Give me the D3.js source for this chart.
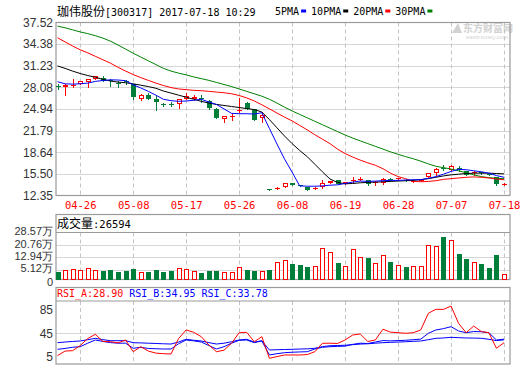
<!DOCTYPE html>
<html><head><meta charset="utf-8">
<script src="https://cdn.jsdelivr.net/npm/d3@7"></script>
<style>
html,body{margin:0;padding:0;background:#fff;}
svg{display:block;}
</style></head><body>
<script>
// ---------------- DATA ----------------
const stockName = "珈伟股份";
const stockCode = "300317";
const timestamp = "2017-07-18 10:29";

const dates = ["04-21","04-24","04-25","04-26","04-27","04-28","05-02","05-03","05-04","05-05",
"05-08","05-09","05-10","05-11","05-12","05-15","05-16","05-17","05-18","05-19",
"05-22","05-23","05-24","05-25","05-26","05-31","06-01","06-02","06-05","06-06",
"06-07","06-08","06-09","06-12","06-13","06-14","06-15","06-16","06-19","06-20",
"06-21","06-22","06-23","06-26","06-27","06-28","06-29","06-30","07-03","07-04",
"07-05","07-06","07-07","07-10","07-11","07-12","07-13","07-14","07-17","07-18"];

const openP = [28.3,28.15,28.25,28.6,28.9,29.3,29.45,29.1,28.75,29.0,
28.5,26.46,26.93,26.4,25.65,25.65,25.63,26.46,26.46,26.55,
26.14,25.0,23.43,23.7,24.6,25.85,24.93,23.63,13.3,13.4,
13.6,14.15,13.85,13.57,13.35,13.6,14.2,14.55,14.05,14.45,
14.7,14.6,14.25,14.2,14.75,14.75,14.6,14.3,14.5,15.02,
15.66,16.4,16.1,16.4,15.85,15.6,15.7,15.55,15.0,14.0];
const highP = [28.5,28.5,29.3,29.05,29.35,29.75,29.7,29.35,28.95,29.1,
28.6,27.05,27.25,26.8,25.85,25.9,26.4,27.2,26.9,26.9,
26.2,25.05,23.9,24.2,26.5,26.0,25.0,24.45,13.35,13.6,
14.15,14.2,13.95,13.6,13.6,14.65,14.5,14.6,14.35,15.05,
15.0,14.65,14.4,14.85,14.95,14.95,14.75,14.6,14.7,15.65,
16.3,16.8,16.85,16.7,15.95,15.85,15.8,15.65,15.1,14.2];
const lowP = [27.9,26.98,28.2,28.55,28.1,29.25,29.0,28.35,28.2,28.6,
26.45,26.3,26.4,24.75,25.4,25.3,25.09,26.4,26.2,25.9,
25.0,23.6,23.0,23.3,24.55,24.95,23.28,23.0,13.12,13.3,
13.55,13.85,13.7,13.1,13.3,13.5,14.1,14.0,14.0,14.2,
14.6,13.95,13.95,14.0,14.4,14.6,14.4,14.25,14.4,14.95,
15.37,16.0,16.0,15.95,15.3,15.35,15.45,15.35,13.9,13.9];
const closeP = [28.2,28.4,28.4,28.95,29.3,29.68,29.05,29.05,28.7,28.95,
26.7,27.0,26.46,25.96,25.6,25.6,26.36,26.83,26.7,26.5,
25.02,23.63,23.86,23.95,24.8,25.0,23.4,24.11,13.2,13.5,
14.1,13.9,13.8,13.15,13.45,14.2,14.45,14.05,14.3,14.55,
14.8,14.05,14.3,14.8,14.7,14.85,14.55,14.5,14.6,15.6,
16.24,16.3,16.57,16.0,15.38,15.7,15.62,15.5,13.96,14.08];

// volume in 手
const volume = [38900,49500,53900,49500,60200,49500,45100,49500,38900,45100,
55800,37000,38900,49500,37000,45100,60200,53900,43300,30700,
43300,43300,37000,37000,66500,49500,45100,43300,49500,97800,
110300,87100,80900,68300,72700,185600,162400,93400,72700,179300,
129200,124800,91500,141700,99700,79000,68300,72700,72700,204400,
198100,256400,235700,149800,118500,97800,87100,62100,143600,26594];

const ma5 = [28.9,28.6,28.55,28.6,28.7,28.95,29.08,29.18,29.15,29.05,
28.45,28.0,27.5,26.95,26.35,26.15,26.05,26.1,26.2,26.35,
25.95,25.6,24.95,24.3,24.25,24.25,24.2,24.4,22.1,19.85,
17.65,15.75,13.75,13.7,13.7,13.75,13.85,13.9,14.1,14.3,
14.45,14.4,14.45,14.5,14.55,14.55,14.6,14.65,14.65,14.85,
15.1,15.45,15.85,16.15,16.1,15.95,15.8,15.6,15.25,15.0];
const ma10 = [31.2,30.85,30.45,30.1,29.8,29.55,29.25,29.0,28.85,28.75,
28.6,28.4,28.2,27.95,27.55,27.25,26.95,26.65,26.35,26.05,
25.8,25.6,25.45,25.3,25.15,25.0,24.85,24.5,23.4,22.2,
21.0,19.9,18.9,18.0,16.9,15.8,14.75,14.25,14.05,14.1,
14.2,14.25,14.3,14.35,14.4,14.45,14.5,14.55,14.65,14.8,
15.0,15.2,15.35,15.45,15.55,15.6,15.6,15.6,15.55,15.5];
const ma20 = [35.3,34.7,34.1,33.55,33.1,32.6,32.1,31.6,31.0,30.45,
29.95,29.5,29.1,28.7,28.35,28.05,27.85,27.75,27.65,27.6,
27.5,27.4,27.3,27.15,26.9,26.55,26.1,25.55,24.95,24.35,
23.75,23.2,22.55,21.9,21.2,20.55,19.9,19.1,18.45,17.95,
17.5,17.1,16.75,16.25,15.6,15.1,14.8,14.4,14.35,14.4,
14.5,14.7,14.8,14.9,15.0,15.05,15.0,14.9,14.75,14.65];
const ma30 = [37.0,36.75,36.45,36.15,35.9,35.6,35.25,34.8,34.25,33.65,
33.05,32.5,31.95,31.4,30.85,30.45,30.15,29.9,29.6,29.35,
29.1,28.8,28.5,28.2,27.85,27.5,27.15,26.8,26.35,25.8,
25.2,24.65,24.15,23.65,23.15,22.65,22.15,21.65,21.15,20.7,
20.3,19.9,19.5,19.1,18.7,18.35,18.0,17.7,17.35,16.95,
16.6,16.4,16.2,15.95,15.65,15.35,15.1,14.95,14.85,14.8];

const rsiA = [6.6,14.5,15.2,24,36,43.3,31,30.6,28.5,33.5,
13.4,22,14.5,11,10,9.5,36,50.7,46.7,39.2,
25,13.4,16,27.8,46,46.7,30.6,39.2,2.1,5,
7.8,7.8,7.8,8.5,13.4,27.8,28,27.5,33.5,42,
43.8,31,33.5,52,47,46,45,46,50.7,79.3,
86.2,86,91.8,62,46,57.5,48,46,19.3,28.90];
const rsiB = [17.5,19,21,22,28,33.5,31,29,28,28,
19.3,21,19,18.5,18,18.1,27,33.5,32,30,
24,18.1,22,28,33,33.5,29,32,7.8,10,
11.7,12.5,13,13.4,18,21,22,22.5,23,26,
28,27.5,30,32.5,32,32.5,33,34,35,45,
50.7,53,56.4,49,46,48,47.7,46,33.5,34.95];
const rsiC = [28.9,30,31,31.8,34,36.4,34,32.3,32.3,32.3,
28.9,28.5,28,27.5,27,26.6,30,34.7,33,31.8,
29,26.6,28,30.5,33.5,34.7,30,32,16.4,16.8,
17.2,17.5,18,18.3,19.3,22,23.7,24,24.5,25.5,
26.5,27,28,28.9,29.5,30,30.5,31.2,31.8,34,
36.4,37,38.1,37.5,37,36.8,36.4,34.7,32.5,33.78];

const priceTicks = [37.52,34.38,31.23,28.08,24.94,21.79,18.64,15.50,12.35];
const tickDates = ["04-26","05-08","05-17","05-26","06-08","06-19","06-28","07-07","07-18"];
const volTickValues = [285700,207600,129400,51200,0];
const volTickLabels = ["28.57万","20.76万","12.94万","5.12万","0"];
const rsiTicks = [85,45,5];
const maLabels = ["5PMA","10PMA","20PMA","30PMA"];
const rsiLabels = ["RSI_A","RSI_B","RSI_C"];
const volLabel = "成交量";

// ---------------- DRAW ----------------
const RED = "#ff0000", GREEN = "#007f3a", BLUE = "#0000ff";
const maColors = [BLUE, "#000000", RED, "#008000"];
const FRAME = "#9a9a9a", GRID = "#d6d6d6", VGRID = "#c4c4c4";
const CJK = "'Noto Sans CJK SC', sans-serif";
const MONO = "'DejaVu Sans Mono', monospace";
const SANS = "'Liberation Sans', Arial, sans-serif";

const svg = d3.select("body").append("svg").attr("width",520).attr("height",365);
const PL = 56, PR = 510;
const mainTop = 22.5, mainBot = 195.5;
const volTop = 214.5, volHead = 232.5, volBot = 279.5;
const rsiTop = 287.5, rsiHead = 301, rsiBot = 364;

const x = d3.scalePoint().domain(dates).range([57.5, 504]);
const yP = d3.scaleLinear().domain([12.35, 37.52]).range([mainBot, mainTop]);
const yV = d3.scaleLinear().domain([0, 285700]).range([277.9, volHead]);
const yR = d3.scaleLinear().domain([5, 85]).range([356.6, 310]);
const px = v => Math.round(v) + 0.5;

// watermark
const wm = svg.append("g").attr("fill","#d2d2d2");
wm.append("path").attr("d","M452,33 L458,23 L462,33 Z");
wm.append("text").attr("x",463).attr("y",32).attr("font-family",CJK).attr("font-size",10).attr("font-weight","bold").text("东方财富网");
wm.append("text").attr("x",466).attr("y",39).attr("font-family",SANS).attr("font-size",6).text("eastmoney.com");

// horizontal grids
svg.append("g").selectAll("line").data(priceTicks.slice(1,-1)).join("line")
  .attr("x1",PL).attr("x2",PR).attr("y1",d=>px(yP(d))).attr("y2",d=>px(yP(d)))
  .attr("stroke",GRID);
svg.append("g").selectAll("line").data(volTickValues.slice(1,-1)).join("line")
  .attr("x1",PL).attr("x2",PR).attr("y1",d=>px(yV(d))).attr("y2",d=>px(yV(d)))
  .attr("stroke",GRID);
svg.append("line").attr("x1",PL).attr("x2",PR).attr("y1",px(yR(45))).attr("y2",px(yR(45))).attr("stroke",GRID);

// vertical dashed grids
[[mainTop,mainBot],[volHead,volBot],[rsiHead,rsiBot]].forEach(([a,b])=>{
  svg.append("g").selectAll("line").data(tickDates).join("line")
    .attr("x1",d=>px(x(d))).attr("x2",d=>px(x(d))).attr("y1",a).attr("y2",b)
    .attr("stroke",VGRID).attr("stroke-dasharray","4,3");
});

// frames
const frame = svg.append("g").attr("fill","none").attr("stroke",FRAME).attr("stroke-width",1.2);
frame.append("rect").attr("x",PL).attr("y",mainTop).attr("width",PR-PL).attr("height",mainBot-mainTop);
frame.append("rect").attr("x",PL).attr("y",volTop).attr("width",PR-PL).attr("height",volBot-volTop);
frame.append("line").attr("x1",PL).attr("x2",PR).attr("y1",volHead).attr("y2",volHead);
frame.append("rect").attr("x",PL).attr("y",rsiTop).attr("width",PR-PL).attr("height",rsiBot-rsiTop);
frame.append("line").attr("x1",PL).attr("x2",PR).attr("y1",rsiHead).attr("y2",rsiHead);

// axes
function styleAxis(g, family, size, color){
  g.select(".domain").remove();
  g.selectAll("text").attr("font-family",family).attr("font-size",size).attr("fill",color);
}
svg.append("g").attr("transform",`translate(${PL},0)`)
  .call(d3.axisLeft(yP).tickValues(priceTicks).tickSize(0).tickPadding(3).tickFormat(d=>d.toFixed(2)))
  .call(g=>styleAxis(g,SANS,12,"#333"));
svg.append("g").attr("transform",`translate(0,${mainBot})`)
  .call(d3.axisBottom(x).tickValues(tickDates).tickSize(0).tickPadding(6))
  .call(g=>styleAxis(g,MONO,10.5,RED));
svg.append("g").attr("transform",`translate(${PL},0)`)
  .call(d3.axisLeft(yV).tickValues(volTickValues).tickSize(0).tickPadding(3).tickFormat((d,i)=>volTickLabels[i]))
  .call(g=>styleAxis(g,SANS,11,"#333"))
  .call(g=>g.selectAll(".tick text").attr("dy",(d)=> d===0 ? "0.7em" : "0.2em"));
svg.append("g").attr("transform",`translate(${PL},0)`)
  .call(d3.axisLeft(yR).tickValues(rsiTicks).tickSize(0).tickPadding(3))
  .call(g=>styleAxis(g,SANS,12,"#333"));

// title
const title = svg.append("text").attr("x",57).attr("y",16).attr("fill","#000");
title.append("tspan").attr("font-family",CJK).attr("font-size",12).text(stockName);
title.append("tspan").attr("font-family",MONO).attr("font-size",10).text(`[${stockCode}] ${timestamp}`);

// legend
let lx = 275;
maLabels.forEach((lab,i)=>{
  const t = svg.append("text").attr("x",lx).attr("y",15).attr("font-family",MONO).attr("font-size",10).attr("fill","#000").text(lab);
  const w = t.node().getComputedTextLength();
  svg.append("rect").attr("x",lx+w+2).attr("y",9.5).attr("width",5).attr("height",3).attr("fill",maColors[i]);
  lx += w + 2 + 5 + 5;
});

// clip
const defs = svg.append("defs");
defs.append("clipPath").attr("id","cMain").append("rect").attr("x",PL).attr("y",mainTop).attr("width",PR-PL).attr("height",mainBot-mainTop);
defs.append("clipPath").attr("id","cRsi").append("rect").attr("x",PL).attr("y",rsiHead).attr("width",PR-PL).attr("height",rsiBot-rsiHead);

// candles
const candles = dates.map((d,i)=>({d, o:openP[i], h:highP[i], l:lowP[i], c:closeP[i]}));
const gC = svg.append("g");
gC.selectAll("line").data(candles).join("line")
  .attr("x1",k=>px(x(k.d))).attr("x2",k=>px(x(k.d)))
  .attr("y1",k=>Math.round(yP(k.h))).attr("y2",k=>Math.round(yP(k.l))+1)
  .attr("stroke",k=>k.c>=k.o?RED:GREEN);
gC.selectAll("rect").data(candles).join("rect")
  .each(function(k){
    const cx = px(x(k.d));
    const up = k.c >= k.o;
    const t = Math.round(yP(Math.max(k.o,k.c)));
    const b = Math.round(yP(Math.min(k.o,k.c)));
    const r = d3.select(this);
    if(up && b - t >= 2){
      r.attr("x",cx-2).attr("y",t+0.5).attr("width",4).attr("height",b-t-1)
       .attr("fill","#fff").attr("stroke",RED);
    } else {
      r.attr("x",cx-2.5).attr("y",t).attr("width",5).attr("height",Math.max(1,b-t))
       .attr("fill",up?RED:GREEN);
    }
  });

// MA lines
const gMA = svg.append("g").attr("clip-path","url(#cMain)").attr("fill","none");
[ma30, ma20, ma10, ma5].forEach((arr,j)=>{
  const colorIdx = 3 - j;
  gMA.append("path").datum(arr)
    .attr("d", d3.line().x((v,i)=>x(dates[i])).y(v=>yP(v)))
    .attr("stroke", maColors[colorIdx]).attr("stroke-width",1);
});

// volume header
const vh = svg.append("text").attr("x",57).attr("y",228).attr("fill","#000");
vh.append("tspan").attr("font-family",CJK).attr("font-size",12).text(volLabel);
vh.append("tspan").attr("font-family",MONO).attr("font-size",10.5).text(":" + volume[volume.length-1]);

// volume bars
const vols = dates.map((d,i)=>({d, v:volume[i], up: closeP[i] >= openP[i]}));
svg.append("g").selectAll("rect").data(vols).join("rect")
  .each(function(k){
    const cx = px(x(k.d));
    const t = Math.round(yV(k.v));
    const r = d3.select(this);
    if(k.up){
      r.attr("x",cx-2).attr("y",t+0.5).attr("width",4).attr("height",Math.round(volBot)-t-1)
       .attr("fill","#fff").attr("stroke",RED);
    } else {
      r.attr("x",cx-2.5).attr("y",t).attr("width",5).attr("height",Math.round(volBot)-t)
       .attr("fill",GREEN);
    }
  });

// RSI header
const rsiVals = [rsiA, rsiB, rsiC];
const rsiColors = [RED, BLUE, BLUE];
let rx = 57;
rsiLabels.forEach((lab,i)=>{
  const t = svg.append("text").attr("x",rx).attr("y",297).attr("font-family",MONO).attr("font-size",10)
    .attr("fill",rsiColors[i]).text(`${lab}:${rsiVals[i][rsiVals[i].length-1].toFixed(2)}`);
  rx += t.node().getComputedTextLength() + 6;
});

// RSI lines
const gR = svg.append("g").attr("clip-path","url(#cRsi)").attr("fill","none");
[rsiC, rsiB, rsiA].forEach((arr,j)=>{
  gR.append("path").datum(arr)
    .attr("d", d3.line().x((v,i)=>x(dates[i])).y(v=>yR(v)))
    .attr("stroke", [BLUE,BLUE,RED][j]).attr("stroke-width",1);
});
</script>
</body></html>
